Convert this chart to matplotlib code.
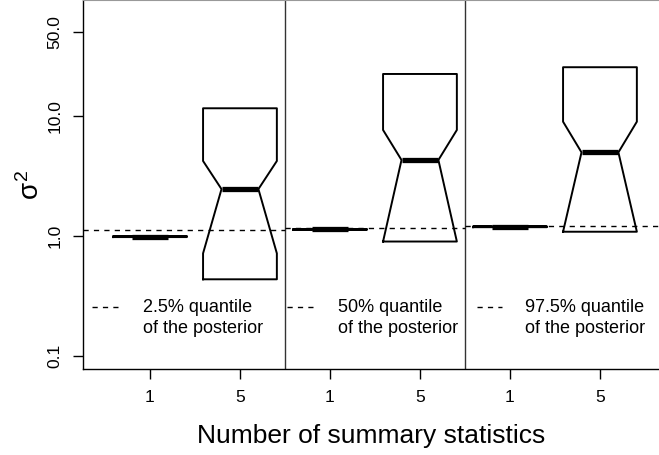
import numpy as np
import matplotlib.pyplot as plt

plt.rcParams['font.family'] = ['Liberation Sans', 'DejaVu Sans']
plt.rcParams['mathtext.fontset'] = 'custom'
plt.rcParams['mathtext.rm'] = 'Liberation Sans'
plt.rcParams['mathtext.it'] = 'Liberation Sans'

# sigma^2 estimates, 1 vs 5 summary statistics, for three posterior quantiles
positions = [1, 2, 3, 4, 5, 6]
q1 = [0.98, 0.436, 1.125, 0.90, 1.185, 1.086]
med = [0.99, 2.46, 1.135, 4.30, 1.195, 4.98]
q3 = [1.0, 11.6, 1.145, 22.4, 1.205, 25.5]
ci_lo = [0.985, 0.717, 1.13, 0.90, 1.19, 1.086]
ci_hi = [0.995, 4.22, 1.14, 7.65, 1.20, 8.97]

true_quantiles = [1.12, 1.16, 1.21]
legend_text = ['2.5% quantile\nof the posterior',
               '50% quantile\nof the posterior',
               '97.5% quantile\nof the posterior']

tick_labels = ['1', '5', '1', '5', '1', '5']
dividers = [2.5, 4.5]

fig = plt.figure(figsize=(6.59, 4.55), dpi=100)
ax = fig.add_axes([83 / 659, 86 / 455, 576 / 659, 369 / 455])
ax.set_yscale('log')
ax.set_xlim(0.256, 6.656)
ax.set_ylim(0.078, 92.6)

stats = []
for i in range(len(positions)):
    stats.append(dict(med=med[i], q1=q1[i], q3=q3[i], whislo=q1[i], whishi=q3[i],
                      cilo=ci_lo[i], cihi=ci_hi[i], fliers=[]))

ax.bxp(stats, positions=positions, widths=0.82, shownotches=True,
       showcaps=False, showfliers=False,
       boxprops=dict(color='black', linewidth=1.4),
       whiskerprops=dict(linewidth=0),
       medianprops=dict(color='black', linewidth=3.8, solid_capstyle='butt'))

# panel separators and the posterior quantile in each panel
edges = [ax.get_xlim()[0]] + dividers + [ax.get_xlim()[1]]
for d in dividers:
    ax.axvline(d, color='#333333', linewidth=1.0)
for k in range(3):
    ax.plot([edges[k], edges[k + 1]], [true_quantiles[k]] * 2, color='black',
            linewidth=1.0, dashes=(3.75, 3.75))

# per-panel legend: dash sample and two-line caption
leg_dash = [(0.356, 0.644), (2.522, 2.811), (4.633, 4.911)]
leg_text_x = [0.922, 3.089, 5.167]
for k in range(3):
    ax.plot(leg_dash[k], [0.256, 0.256], color='black', linewidth=1.0,
            dashes=(3.75, 3.75))
    ax.text(leg_text_x[k], 0.209, legend_text[k], fontsize=13, va='center',
            linespacing=1.3)

ax.set_xticks(positions)
ax.set_xticklabels(tick_labels)
ax.set_yticks([0.1, 1, 10, 50])
ax.set_yticklabels(['0.1', '1.0', '10.0', '50.0'], rotation=90, va='center')
ax.minorticks_off()
ax.tick_params(direction='out', length=7, width=1, labelsize=12.5, pad=8)

ax.spines['right'].set_visible(False)
ax.spines['top'].set_color('#999999')
for s in ['left', 'bottom']:
    ax.spines[s].set_linewidth(1.0)

ax.set_xlabel('Number of summary statistics', fontsize=19)
ax.xaxis.set_label_coords(0.5, -55 / 369)
ax.set_ylabel(r'$\sigma^2$', fontsize=20)
ax.yaxis.set_label_coords(-38 / 576, 0.5)

fig.savefig('out.png', dpi=100)
